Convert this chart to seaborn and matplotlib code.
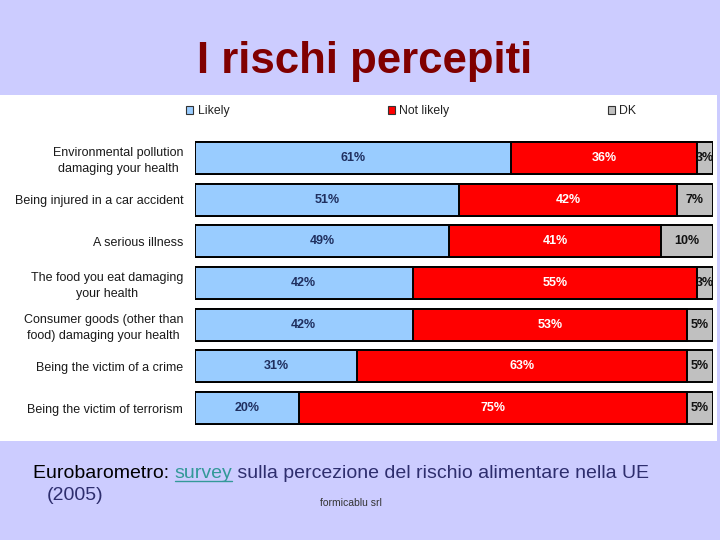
import numpy as np
import pandas as pd
import matplotlib
matplotlib.use("Agg")
import matplotlib.pyplot as plt
import seaborn as sns
from matplotlib.patches import Patch, Rectangle
from matplotlib.lines import Line2D

# --- data ---
risks = [
    "Environmental pollution\ndamaging your health",
    "Being injured in a car accident",
    "A serious illness",
    "The food you eat damaging\nyour health",
    "Consumer goods (other than\nfood) damaging your health",
    "Being the victim of a crime",
    "Being the victim of terrorism",
]
likely = [61, 51, 49, 42, 42, 31, 20]
not_likely = [36, 42, 41, 55, 53, 63, 75]
dk = [3, 7, 10, 3, 5, 5, 5]

series_names = ["Likely", "Not likely", "DK"]
series_colors = ["#99CCFF", "#FF0000", "#C0C0C0"]
label_colors = ["#1F2F5F", "white", "#111111"]

df = pd.DataFrame({"risk": risks, "Likely": likely, "Not likely": not_likely, "DK": dk})
total = df[series_names].sum(axis=1)
# 100% stacked: normalise each row
for s in series_names:
    df[s + "_pct"] = df[s] / total * 100
df["cum1"] = df["Likely_pct"]
df["cum2"] = df["Likely_pct"] + df["Not likely_pct"]
df["cum3"] = df["cum2"] + df["DK_pct"]

sns.set_theme(style="white")
plt.rcParams["font.family"] = ["Liberation Sans", "DejaVu Sans"]

fig = plt.figure(figsize=(7.2, 5.4), dpi=100)
fig.patch.set_facecolor("#CCCCFF")

# white chart panel
fig.patches.append(Rectangle((0, 1 - 441 / 540), 717 / 720, (441 - 95) / 540,
                             transform=fig.transFigure, facecolor="white",
                             edgecolor="none", zorder=-10))

ax = fig.add_axes([195 / 720, 1 - 429 / 540, 518 / 720, 292 / 540])
ax.set_facecolor("none")

# overlay cumulative bars = 100% stacked bars
bar_kw = dict(orient="h", width=0.77, edgecolor="black", linewidth=1.4,
              saturation=1, ax=ax)
sns.barplot(data=df, x="cum3", y="risk", color=series_colors[2], **bar_kw)
sns.barplot(data=df, x="cum2", y="risk", color=series_colors[1], **bar_kw)
sns.barplot(data=df, x="cum1", y="risk", color=series_colors[0], **bar_kw)

ax.set_xlim(0, 100)
ax.set_ylim(len(risks) - 0.5, -0.5)
ax.set_xlabel("")
ax.set_ylabel("")
ax.set_xticks([])
for sp in ax.spines.values():
    sp.set_visible(False)
ax.tick_params(axis="y", length=0, pad=8.5)
for lab in ax.get_yticklabels():
    lab.set_fontsize(9)
    lab.set_color("#1a1a1a")
    lab.set_multialignment("center")
    lab.set_linespacing(1.4)

# segment labels
starts = [np.zeros(len(df)), df["cum1"].values, df["cum2"].values]
for s, st, col in zip(series_names, starts, label_colors):
    for i, (v, w) in enumerate(zip(df[s].values, df[s + "_pct"].values)):
        ax.text(st[i] + w / 2, i, f"{v}%", ha="center", va="center",
                fontsize=9, fontweight="bold", color=col)

# legend
handles = [Patch(facecolor=c, edgecolor="#333333", linewidth=0.8, label=n)
           for n, c in zip(series_names, series_colors)]
fig.legend(handles=handles, ncol=3, loc="center left",
           bbox_to_anchor=(186 / 720, 1 - 111 / 540), frameon=False,
           fontsize=8.8, handlelength=0.6, handleheight=0.6,
           handletextpad=0.35, columnspacing=12.95, borderpad=0,
           borderaxespad=0, labelcolor="#222222")

# slide title
fig.text(365 / 720, 1 - 62 / 540, "I rischi percepiti", ha="center", va="center",
         fontsize=31.5, fontweight="bold", color="#800000")

# footer text
t1 = fig.text(33 / 720, 1 - 478 / 540, "Eurobarometro: ", fontsize=14,
              color="black", va="baseline", ha="left")
t2 = fig.text(0, 0, "survey", fontsize=14, color="#339999", va="baseline", ha="left")
t3 = fig.text(0, 0, " sulla percezione del rischio alimentare nella UE",
              fontsize=14, color="#2E2E6E", va="baseline", ha="left")
fig.canvas.draw()
r = fig.canvas.get_renderer()
bb1 = t1.get_window_extent(r)
t2.set_position((bb1.x1 / 720, 1 - 478 / 540))
fig.canvas.draw()
bb2 = t2.get_window_extent(r)
t3.set_position((bb2.x1 / 720, 1 - 478 / 540))
uy = 1 - 480.5 / 540
fig.lines.append(Line2D([bb2.x0 / 720, bb2.x1 / 720], [uy, uy],
                        transform=fig.transFigure, color="#339999", linewidth=1))

fig.text(47 / 720, 1 - 500 / 540, "(2005)", fontsize=14, color="#2E2E6E",
         va="baseline", ha="left")
fig.text(320 / 720, 1 - 506 / 540, "formicablu srl", fontsize=7.5, color="#333333",
         va="baseline", ha="left")

fig.savefig("out.png", dpi=100, facecolor=fig.get_facecolor())
